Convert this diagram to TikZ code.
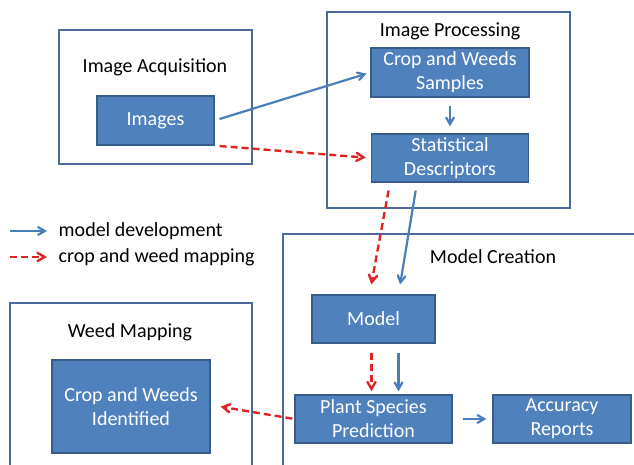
\documentclass[tikz,border=0pt]{standalone}
\usepackage{fontspec}
\setmainfont{Carlito}
\usetikzlibrary{arrows,positioning,shapes}
\definecolor{boxblue}{HTML}{4F81BD}
\definecolor{boxedge}{HTML}{385D8A}
\definecolor{frameblue}{HTML}{4A6B9A}
\definecolor{lineblue}{HTML}{4A7EBB}
\definecolor{mapred}{HTML}{E02424}

\begin{document}
\begin{tikzpicture}[x=1pt,y=-1pt,thick]
\tikzstyle{block}=[rectangle,draw=boxedge,fill=boxblue,line width=1.3pt,text=white,align=center,inner sep=0pt,font=\fontsize{20}{24}\selectfont]
\tikzstyle{frame}=[rectangle,draw=frameblue,line width=1.5pt,inner sep=0pt]
\tikzstyle{title}=[font=\fontsize{20}{24}\selectfont,text=black]
\tikzstyle{dev}=[->,>=angle 60,draw=lineblue,line width=2.2pt]
\tikzstyle{map}=[->,>=angle 60,draw=mapred,line width=2.4pt,dash pattern=on 7pt off 4pt]

\useasboundingbox (0,0) rectangle (634,465);

% frames
\node[frame,minimum width=193pt,minimum height=134pt] (acqframe) at (155.5,97) {};
\node[frame,minimum width=243pt,minimum height=196pt] (procframe) at (448.5,110) {};
\draw[frameblue,line width=1.5pt] (283,470) -- (283,234) -- (640,234);
\draw[frameblue,line width=1.5pt] (10,470) -- (10,303) -- (252,303) -- (252,470);

% titles
\node[title] (acqtitle) at (155,67) {Image Acquisition};
\node[title] (proctitle) at (450,31) {Image Processing};
\node[title] (modeltitle) at (493,257) {Model Creation};
\node[title] (maptitle) at (130,332) {Weed Mapping};

% blocks
\node[block,minimum width=117pt,minimum height=49pt] (Img) at (155.5,120.5) {Images};
\node[block,minimum width=158pt,minimum height=49pt] (Samp) at (450,72.5) {Crop and Weeds\\Samples};
\node[block,minimum width=157pt,minimum height=48pt] (Stat) [below of=Samp,node distance=85.5pt] {Statistical\\Descriptors};
\node[block,minimum width=123pt,minimum height=48pt] (Mod) at (373.5,319) {Model};
\node[block,minimum width=157pt,minimum height=48pt] (Pred) [below of=Mod,node distance=100pt] {Plant Species\\Prediction};
\node[block,minimum width=138pt,minimum height=48pt] (Acc) at (562,419) {Accuracy\\Reports};
\node[block,minimum width=158pt,minimum height=93pt] (Ident) at (131,406.5) {Crop and Weeds\\Identified};

% legend
\coordinate (devA) at (10,231);
\coordinate (devB) at (47,231);
\coordinate (mapA) at (10,257);
\coordinate (mapB) at (47,257);
\node[title,anchor=west] (devtext) at (55,231) {model development};
\node[title,anchor=west] (maptext) at (55,257) {crop and weed mapping};

\path
(devA) edge[dev] (devB)
(mapA) edge[map] (mapB)
(Img.east) edge[dev,shorten <=5pt,shorten >=4pt] (Samp.west)
(Img.south east) edge[map,shorten <=5pt,shorten >=5pt] (Stat.west)
(Samp.south) edge[dev,shorten <=8pt,shorten >=7pt] (Stat.north)
([xshift=-60pt]Stat.south) edge[map,shorten <=8pt,shorten >=10pt] ([xshift=-4pt]Mod.north)
([xshift=-33pt]Stat.south) edge[dev,shorten <=8pt,shorten >=10pt] ([xshift=25pt]Mod.north)
([xshift=-2pt]Mod.south) edge[map,shorten <=9pt,shorten >=3pt] ([xshift=-2pt]Pred.north)
([xshift=25pt]Mod.south) edge[dev,shorten <=9pt,shorten >=3pt] ([xshift=25pt]Pred.north)
(Pred.east) edge[dev,shorten <=10pt,shorten >=6pt] (Acc.west)
(Pred.west) edge[map,shorten <=2pt,shorten >=10pt] ([yshift=1.5pt]Ident.east);
\end{tikzpicture}
\end{document}
